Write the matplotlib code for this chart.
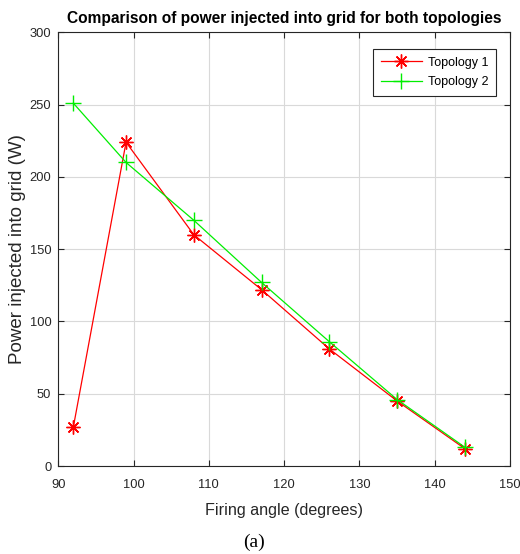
import matplotlib
matplotlib.use("Agg")
import matplotlib.pyplot as plt

# firing angle (degrees)
angle = [92, 99, 108, 117, 126, 135, 144]
# power injected into grid (W)
topology1 = [27, 224, 160, 122, 81, 45, 12]
topology2 = [251, 210, 170, 127, 86, 46, 13]

plt.rcParams["font.family"] = ["Liberation Sans", "DejaVu Sans"]

fig = plt.figure(figsize=(5.2, 5.54), dpi=100)
ax = fig.add_axes([0.1121, 0.1588, 0.8687, 0.7828])

ax.plot(angle, topology1, color="#ff0000", marker=(8, 2, 0), markersize=10,
        markeredgewidth=1.0, linewidth=0.9, label="Topology 1")
ax.plot(angle, topology2, color="#00ee00", marker="+", markersize=11,
        markeredgewidth=1.0, linewidth=0.9, label="Topology 2")

ax.set_xlim(90, 150)
ax.set_ylim(0, 300)
ax.set_xticks(range(90, 151, 10))
ax.set_yticks(range(0, 301, 50))
ax.grid(True, color="#d9d9d9", linewidth=0.8)
ax.set_axisbelow(True)
ax.tick_params(direction="in", top=True, right=True, labelsize=9.3,
               colors="#262626", length=4)
ax.tick_params(axis="x", pad=9.5)
ax.tick_params(axis="y", pad=5)
for s in ax.spines.values():
    s.set_color("#262626")
    s.set_linewidth(0.8)

ax.set_title("Comparison of power injected into grid for both topologies",
             fontsize=11.2, fontweight="bold", pad=6.5)
ax.set_xlabel("Firing angle (degrees)", fontsize=11.6, color="#262626", labelpad=8.5)
ax.set_ylabel("Power injected into grid (W)", fontsize=13.5, color="#262626")
ax.yaxis.set_label_coords(-0.072, 0.5)

leg = ax.legend(loc="upper right", bbox_to_anchor=(0.969, 0.9615), fontsize=9,
                fancybox=False, framealpha=1, edgecolor="#262626",
                handlelength=3.3, handletextpad=0.5, borderpad=0.6,
                labelspacing=0.6, borderaxespad=0)
leg.get_frame().set_linewidth(0.8)

fig.text(0.489, 0.012, "(a)", ha="center", fontsize=14,
         family=["Liberation Serif", "DejaVu Serif"])

fig.savefig("out.png", dpi=100)
